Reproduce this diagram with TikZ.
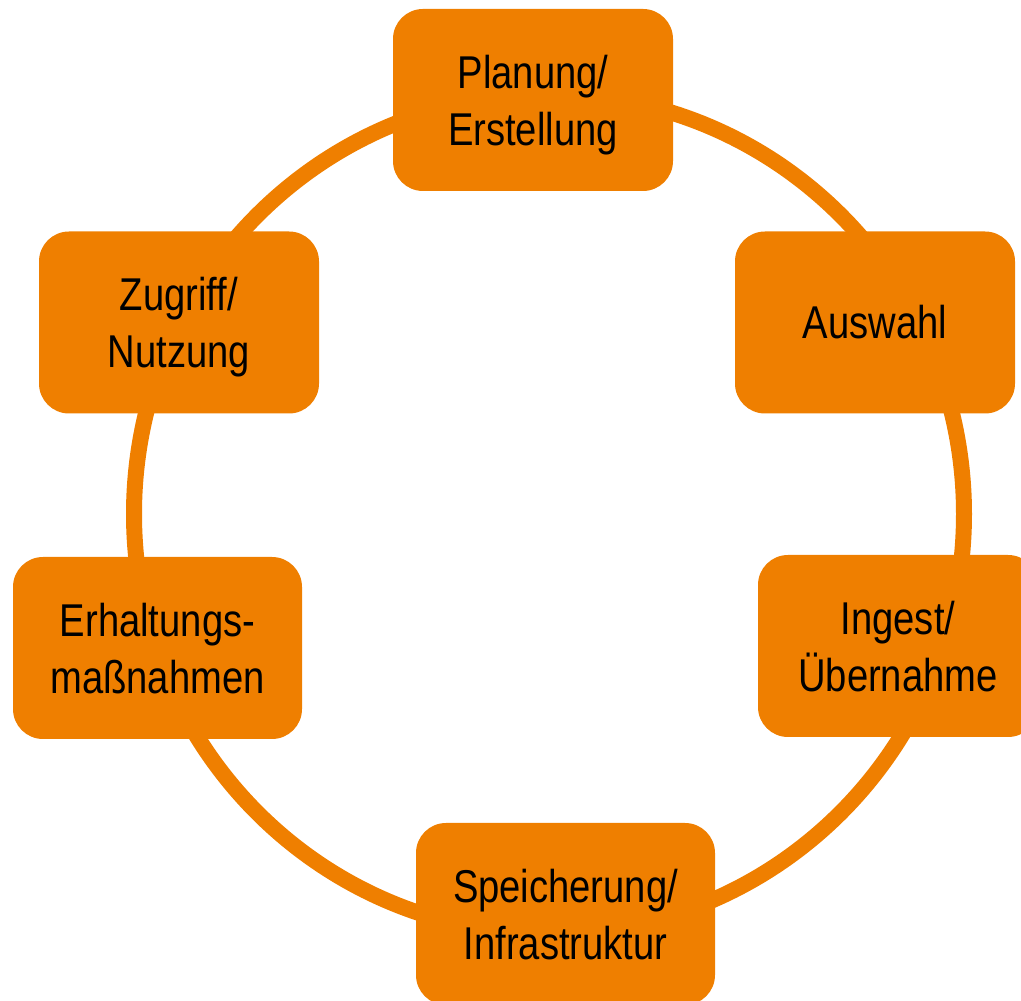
\documentclass[tikz,border=0pt]{standalone}
\usepackage{fontspec}
\setmainfont{Liberation Sans}[FakeStretch=0.83]
\definecolor{lifeorange}{RGB}{239,127,0}
\newcommand{\nodepthline}[1]{\raisebox{0pt}[\height][0pt]{#1}}
\tikzset{
  ring/.style={draw=lifeorange, line width=16pt},
  stagebox/.style={fill=lifeorange, rounded corners=30pt, minimum width=280pt,
    minimum height=182pt, inner sep=0pt, align=center, text=black,
    font=\fontsize{46}{57}\selectfont}
}
\begin{document}
\begin{tikzpicture}[x=1pt,y=1pt]
\useasboundingbox (0,0) rectangle (1021,1001);
\clip (0,0) rectangle (1021,1001);
\draw[ring] (549,487) ellipse [x radius=415pt, y radius=420pt];
\node[stagebox] (plan) at (533,901) {Planung/\\\nodepthline{Erstellung}};
\node[stagebox] (ausw) at (875,678.5) {Auswahl};
\node[stagebox] (ingest) at (898,355) {Ingest/\\\nodepthline{Übernahme}};
\node[stagebox, minimum width=299pt] (speich) at (565.5,87) {Speicherung/\\\nodepthline{Infrastruktur}};
\node[stagebox, minimum width=289pt] (erh) at (157.5,353) {Erhaltungs-\\\nodepthline{maßnahmen}};
\node[stagebox] (zugr) at (179,678.5) {Zugriff/\\\nodepthline{Nutzung}};
\end{tikzpicture}
\end{document}
